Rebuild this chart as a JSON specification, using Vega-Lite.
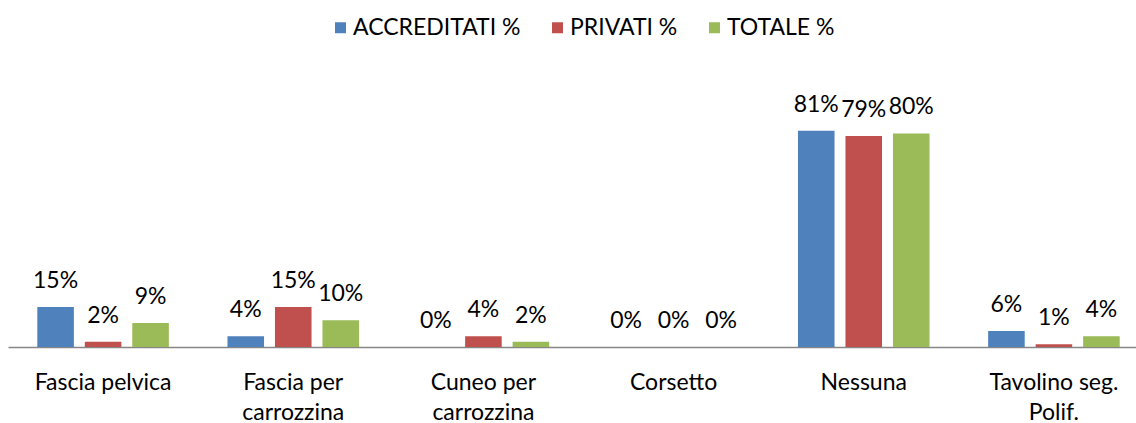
{
  "$schema": "https://vega.github.io/schema/vega-lite/v6.json",
  "width": 1128,
  "height": 267,
  "autosize": "none",
  "padding": {"left": 8, "top": 80, "right": 0, "bottom": 76},
  "background": "white",
  "config": {"view": {"stroke": null}, "font": "Lato"},
  "data": {
    "values": [
      {"categoria": "Fascia pelvica", "serie": "ACCREDITATI %", "valore": 0.15},
      {"categoria": "Fascia pelvica", "serie": "PRIVATI %", "valore": 0.02},
      {"categoria": "Fascia pelvica", "serie": "TOTALE %", "valore": 0.09},
      {"categoria": "Fascia per|carrozzina", "serie": "ACCREDITATI %", "valore": 0.04},
      {"categoria": "Fascia per|carrozzina", "serie": "PRIVATI %", "valore": 0.15},
      {"categoria": "Fascia per|carrozzina", "serie": "TOTALE %", "valore": 0.10},
      {"categoria": "Cuneo per|carrozzina", "serie": "ACCREDITATI %", "valore": 0.0},
      {"categoria": "Cuneo per|carrozzina", "serie": "PRIVATI %", "valore": 0.04},
      {"categoria": "Cuneo per|carrozzina", "serie": "TOTALE %", "valore": 0.02},
      {"categoria": "Corsetto", "serie": "ACCREDITATI %", "valore": 0.0},
      {"categoria": "Corsetto", "serie": "PRIVATI %", "valore": 0.0},
      {"categoria": "Corsetto", "serie": "TOTALE %", "valore": 0.0},
      {"categoria": "Nessuna", "serie": "ACCREDITATI %", "valore": 0.81},
      {"categoria": "Nessuna", "serie": "PRIVATI %", "valore": 0.79},
      {"categoria": "Nessuna", "serie": "TOTALE %", "valore": 0.80},
      {"categoria": "Tavolino seg.|Polif.", "serie": "ACCREDITATI %", "valore": 0.06},
      {"categoria": "Tavolino seg.|Polif.", "serie": "PRIVATI %", "valore": 0.01},
      {"categoria": "Tavolino seg.|Polif.", "serie": "TOTALE %", "valore": 0.04}
    ]
  },
  "encoding": {
    "x": {
      "field": "categoria",
      "type": "nominal",
      "sort": null,
      "scale": {"paddingInner": 0, "paddingOuter": 0, "range": [0, 1141]},
      "axis": {
        "title": null,
        "labelExpr": "split(datum.label, '|')",
        "labelAngle": 0,
        "labelFont": "Lato",
        "labelFontSize": 23,
        "labelColor": "black",
        "labelPadding": 24,
        "labelLineHeight": 30,
        "labelLimit": 0,
        "ticks": false,
        "domainColor": "#868686",
        "domainWidth": 1.5
      }
    },
    "xOffset": {
      "field": "serie",
      "type": "nominal",
      "sort": ["ACCREDITATI %", "PRIVATI %", "TOTALE %"],
      "scale": {"paddingInner": 0.23, "paddingOuter": 0.617}
    },
    "y": {
      "field": "valore",
      "type": "quantitative",
      "scale": {"domain": [0, 1]},
      "axis": null
    }
  },
  "layer": [
    {
      "mark": {"type": "bar"},
      "encoding": {
        "color": {
          "field": "serie",
          "type": "nominal",
          "scale": {
            "domain": ["ACCREDITATI %", "PRIVATI %", "TOTALE %"],
            "range": ["#4F81BD", "#C0504D", "#9BBB59"]
          },
          "legend": {
            "orient": "none",
            "legendX": 321,
            "legendY": -64,
            "direction": "horizontal",
            "title": null,
            "symbolType": "square",
            "symbolSize": 121,
            "symbolStrokeWidth": 0,
            "labelFont": "Lato",
            "labelFontSize": 23,
            "labelColor": "black",
            "labelLimit": 0,
            "labelOffset": 1,
            "columnPadding": 25,
            "padding": 0
          }
        }
      }
    },
    {
      "mark": {"type": "text", "dy": -26, "fontSize": 23, "font": "Lato", "color": "black", "baseline": "middle"},
      "encoding": {
        "text": {"field": "valore", "type": "quantitative", "format": ".0%"}
      }
    }
  ]
}
